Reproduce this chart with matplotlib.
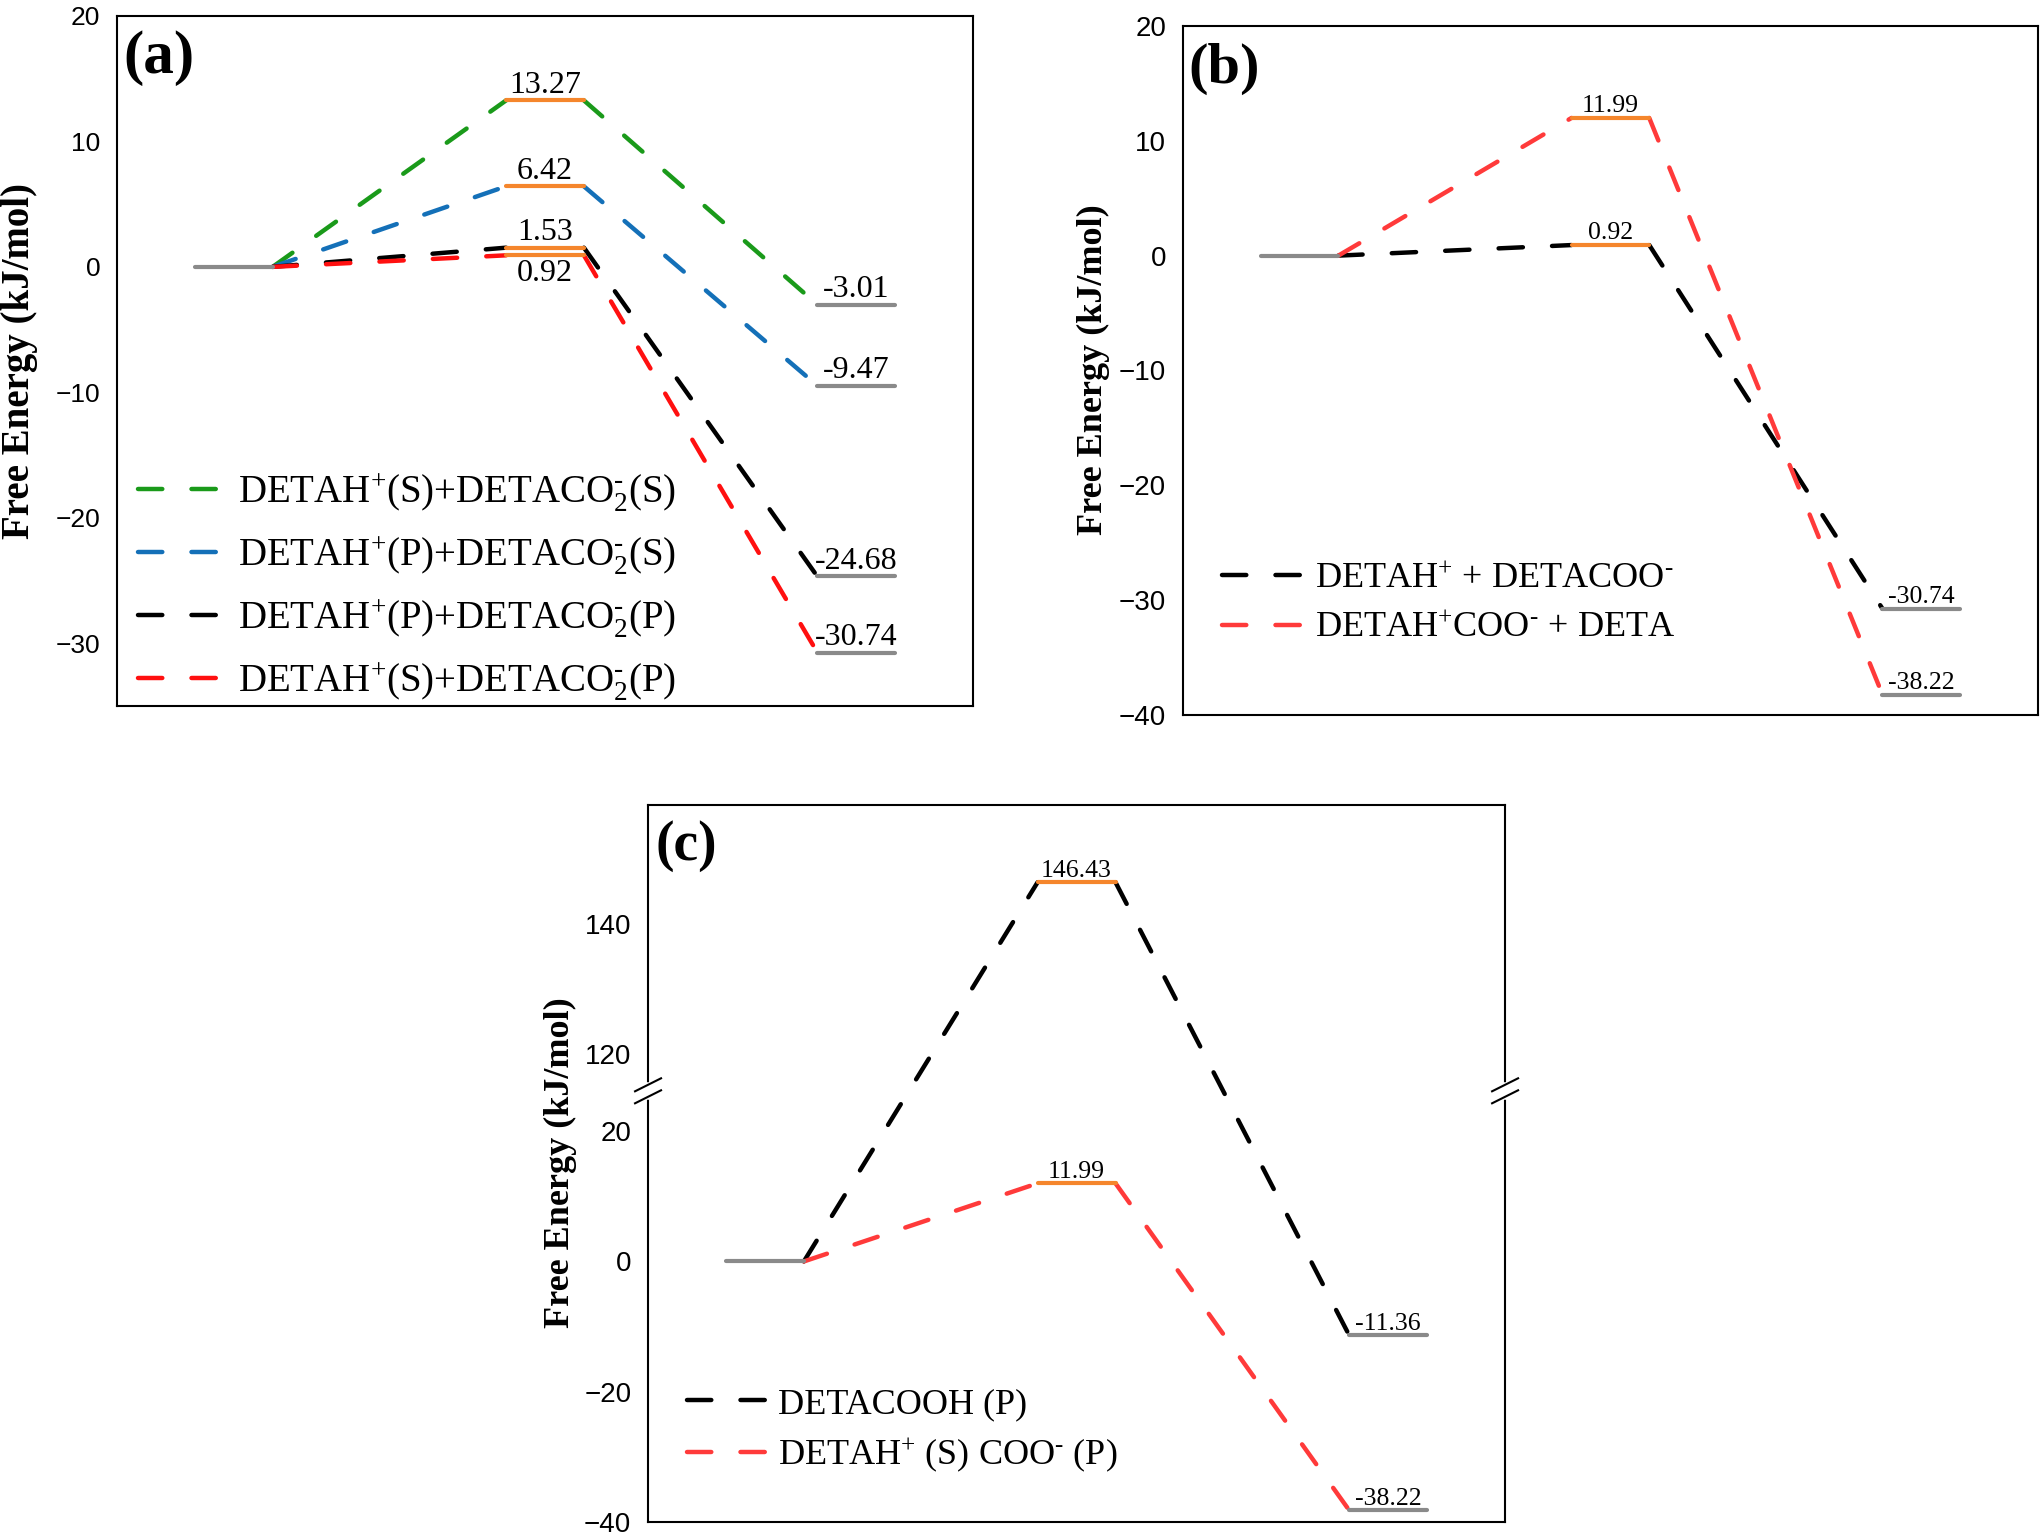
import numpy as np
import matplotlib
matplotlib.use('Agg')
import matplotlib.pyplot as plt

plt.rcParams['font.family'] = 'sans-serif'
plt.rcParams['font.sans-serif'] = ['Liberation Sans', 'DejaVu Sans']
plt.rcParams['mathtext.fontset'] = 'custom'
plt.rcParams['mathtext.rm'] = 'Liberation Serif'
plt.rcParams['mathtext.it'] = 'Liberation Serif:italic'
plt.rcParams['mathtext.bf'] = 'Liberation Serif:bold'
plt.rcParams['lines.scale_dashes'] = False

# ---- data ----
stage_x = [0, 4, 8]      # left edge of reactant, TS and product levels
level_w = 1.0

a_labels = ['DETAH$^{+}$(S)+DETACO$_{2}^{\u2010}$(S)',
            'DETAH$^{+}$(P)+DETACO$_{2}^{\u2010}$(S)',
            'DETAH$^{+}$(P)+DETACO$_{2}^{\u2010}$(P)',
            'DETAH$^{+}$(S)+DETACO$_{2}^{\u2010}$(P)']
a_colors = ['#1a9a1a', '#1470b8', '#000000', '#ff1010']
a_ts = [13.27, 6.42, 1.53, 0.92]
a_prod = [-3.01, -9.47, -24.68, -30.74]
a_yticks = [-30, -20, -10, 0, 10, 20]

b_labels = ['DETAH$^{+}$ + DETACOO$^{\u2010}$',
            'DETAH$^{+}$COO$^{\u2010}$ + DETA']
b_colors = ['#000000', '#ff3a3a']
b_ts = [0.92, 11.99]
b_prod = [-30.74, -38.22]
b_yticks = [-40, -30, -20, -10, 0, 10, 20]

c_labels = ['DETACOOH (P)', 'DETAH$^{+}$ (S) COO$^{\u2010}$ (P)']
c_colors = ['#000000', '#ff3a3a']
c_ts = [146.43, 11.99]
c_prod = [-11.36, -38.22]
c_yticks = [-40, -20, 0, 20, 120, 140]

GRAY = '#8a8a8a'
ORANGE = '#f5862c'
DASH = (0, (17.5, 21))
SERIF = 'Liberation Serif'


def draw_profile(ax, ts, prod, colors, labels, fs, ts_side=None):
    x0, x1, x2 = stage_x
    for i in range(len(ts)):
        ax.plot([x0 + level_w, x1], [0, ts[i]], color=colors[i], ls=DASH, lw=3.2,
                dash_capstyle='round', label=labels[i], zorder=2)
        ax.plot([x1 + level_w, x2], [ts[i], prod[i]], color=colors[i], ls=DASH, lw=3.2,
                dash_capstyle='round', zorder=2)
    ax.plot([x0, x0 + level_w], [0, 0], color=GRAY, lw=3, solid_capstyle='round', zorder=3)
    for i in range(len(ts)):
        ax.plot([x1, x1 + level_w], [ts[i], ts[i]], color=ORANGE, lw=3,
                solid_capstyle='round', zorder=3)
        ax.plot([x2, x2 + level_w], [prod[i], prod[i]], color=GRAY, lw=3,
                solid_capstyle='round', zorder=3)
        side = 'above' if ts_side is None else ts_side[i]
        if side == 'above':
            ax.annotate('%.2f' % ts[i], (x1 + level_w / 2, ts[i]), xytext=(0, 0.5),
                        textcoords='offset points', ha='center', va='bottom',
                        fontsize=fs, family=SERIF)
        else:
            ax.annotate('%.2f' % ts[i], (x1 + level_w / 2, ts[i]), xytext=(0, -3),
                        textcoords='offset points', ha='center', va='top',
                        fontsize=fs, family=SERIF)
        ax.annotate('%.2f' % prod[i], (x2 + level_w / 2, prod[i]), xytext=(0, 0.5),
                    textcoords='offset points', ha='center', va='bottom',
                    fontsize=fs, family=SERIF)
    ax.set_xlim(-1, 10)
    ax.set_xticks([])
    ax.tick_params(axis='y', length=0, pad=12, labelsize=20)
    for s in ax.spines.values():
        s.set_linewidth(1.5)


def panel_tag(ax, tag, fs, dx, dy):
    ax.annotate(tag, (0, 1), xycoords='axes fraction', xytext=(dx, dy),
                textcoords='offset pixels', ha='left', va='top',
                fontsize=fs, family=SERIF, weight='bold')


fig = plt.figure(figsize=(20.43, 15.35), dpi=100)

# (a)
ax_a = fig.add_axes([0.05727, 0.5401, 0.4190, 0.4495])
draw_profile(ax_a, a_ts, a_prod, a_colors, a_labels, 23,
             ts_side=['above', 'above', 'above', 'below'])
ax_a.set_ylim(-35, 20)
ax_a.set_yticks(a_yticks)
ax_a.tick_params(axis='y', labelsize=19)
panel_tag(ax_a, '(a)', 44, 6, -14)
ax_a.legend(loc='center left', bbox_to_anchor=(0.0245, 0.172), frameon=False,
            prop={'family': SERIF, 'size': 28}, handlelength=2.15,
            handletextpad=0.42, labelspacing=0.52, borderpad=0, borderaxespad=0)
fig.text(20 / 2043, 1 - 361 / 1535, 'Free Energy (kJ/mol)', rotation=90,
         ha='center', va='center', fontsize=28, family=SERIF, weight='bold')

# (b)
ax_b = fig.add_axes([0.5790, 0.5342, 0.4185, 0.4489])
draw_profile(ax_b, b_ts, b_prod, b_colors, b_labels, 18.5)
ax_b.set_ylim(-40, 20)
ax_b.set_yticks(b_yticks)
panel_tag(ax_b, '(b)', 42, 5, -17)
ax_b.legend(loc='center left', bbox_to_anchor=(0.0456, 0.161), frameon=False,
            prop={'family': SERIF, 'size': 26}, handlelength=2.17,
            handletextpad=0.42, labelspacing=0.44, borderpad=0, borderaxespad=0)
fig.text(1093 / 2043, 1 - 370 / 1535, 'Free Energy (kJ/mol)', rotation=90,
         ha='center', va='center', fontsize=26, family=SERIF, weight='bold')

# (c) one axis with a compressed gap between ~26 and ~114 kJ/mol
brk_lo, brk_span, squeeze = 26.2, 88.3, 1e-3


def fwd(y):
    y = np.asarray(y, dtype=float)
    return np.where(y <= brk_lo, y,
                    np.where(y >= brk_lo + brk_span, y - brk_span + brk_span * squeeze,
                             brk_lo + (y - brk_lo) * squeeze))


def inv(u):
    u = np.asarray(u, dtype=float)
    return np.where(u <= brk_lo, u,
                    np.where(u >= brk_lo + brk_span * squeeze, u + brk_span - brk_span * squeeze,
                             brk_lo + (u - brk_lo) / squeeze))


ax_c = fig.add_axes([0.3172, 0.0085, 0.4195, 0.4671])
ax_c.set_yscale('function', functions=(fwd, inv))
draw_profile(ax_c, c_ts, c_prod, c_colors, c_labels, 18.5)
ax_c.set_ylim(-40, 158.3)
ax_c.set_yticks(c_yticks)
ax_c.yaxis.set_major_formatter(matplotlib.ticker.ScalarFormatter())
ax_c.yaxis.set_minor_locator(matplotlib.ticker.NullLocator())
panel_tag(ax_c, '(c)', 40, 7, -15)
ax_c.legend(loc='center left', bbox_to_anchor=(0.0455, 0.127), frameon=False,
            prop={'family': SERIF, 'size': 26}, handlelength=2.17,
            handletextpad=0.36, labelspacing=0.40, borderpad=0, borderaxespad=0)
fig.text(560 / 2043, 1 - 1163 / 1535, 'Free Energy (kJ/mol)', rotation=90,
         ha='center', va='center', fontsize=26, family=SERIF, weight='bold')

# break marks on both spines
yb = (fwd(brk_lo) + 40) / (fwd(158.3) + 40)
dx, dy, sep = 13 / 857, 6.5 / 717, 6 / 717
for xc in (0, 1):
    ax_c.plot([xc, xc], [yb - sep, yb + sep], transform=ax_c.transAxes,
              color='white', lw=4, clip_on=False, zorder=4)
    for yc in (yb - sep, yb + sep):
        ax_c.plot([xc - dx, xc + dx], [yc - dy, yc + dy], transform=ax_c.transAxes,
                  color='k', lw=1.5, clip_on=False, zorder=5)

fig.savefig('out.png', dpi=100)
